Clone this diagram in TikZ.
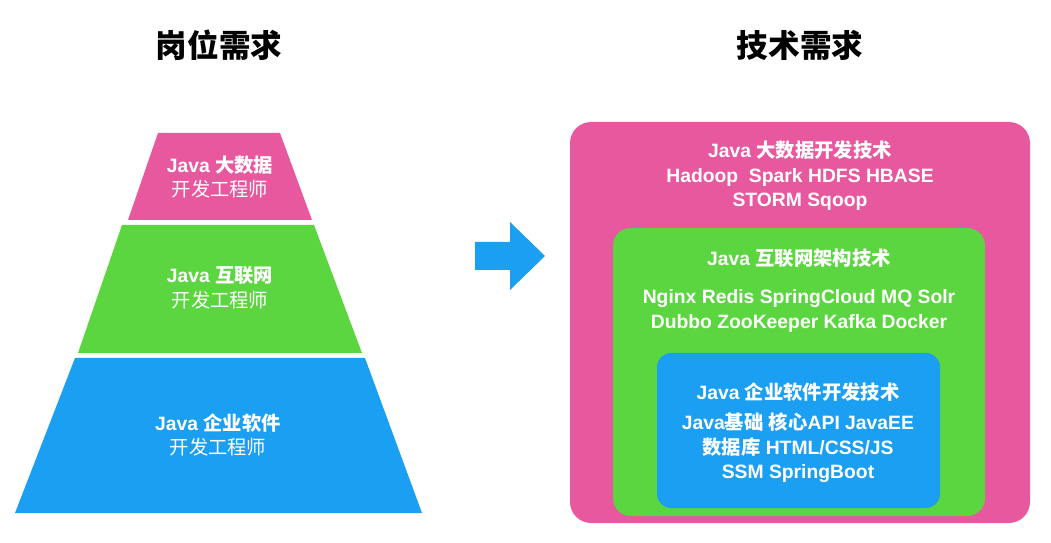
\documentclass[tikz,border=0pt]{standalone}
\usepackage{fontspec}
\setmainfont{Liberation Sans}
\newfontfamily\cjk{Noto Sans CJK SC}
\definecolor{pinkc}{HTML}{E8589E}
\definecolor{greenc}{HTML}{5CD640}
\definecolor{bluec}{HTML}{1A9FF2}
\tikzset{
  layer/.style={draw=none},
  txt/.style={text=white, align=center, font=\bfseries\fontsize{11}{14}\selectfont},
  title/.style={font=\cjk\bfseries\fontsize{18}{20}\selectfont}
}
\begin{document}
\begin{tikzpicture}[x=0.02cm, y=-0.02cm]
	\useasboundingbox (0, 0) rectangle (1051, 543);
	% titles
	\node[title] (t1) at (219, 45) {岗位需求};
	\node[title] (t2) at (800, 45) {技术需求};
	
	% pyramid
	\fill[pinkc] (158, 133) -- (280, 133) -- (312, 220) -- (128, 220) -- cycle;
	\fill[greenc] (122, 225) -- (314, 225) -- (362, 353) -- (78, 353) -- cycle;
	\fill[bluec] (75, 358) -- (365, 358) -- (422, 513) -- (15, 513) -- cycle;
	\node[txt] (p1) at (220, 177) {Java {\cjk 大数据}\\{\cjk\mdseries 开发工程师}};
	\node[txt] (p2) at (220, 288) {Java {\cjk 互联网}\\{\cjk\mdseries 开发工程师}};
	\node[txt] (p3) at (218, 435) {Java {\cjk 企业软件}\\{\cjk\mdseries 开发工程师}};
	
	% arrow
	\fill[bluec] (475, 242) -- (510, 242) -- (510, 222) -- (545, 256) -- (510, 290) -- (510, 270) -- (475, 270) -- cycle;
	
	% nested boxes
	\fill[pinkc, rounded corners=12] (570, 122) rectangle (1030, 523);
	\fill[greenc, rounded corners=10] (613, 228) rectangle (985, 516);
	\fill[bluec, rounded corners=8] (657, 353) rectangle (940, 508);
	\node[txt] (b1) at (800, 176) {Java {\cjk 大数据开发技术}\\Hadoop\ \ Spark HDFS HBASE\\STORM Sqoop};
	\node[txt] (b2) at (799, 258) {Java {\cjk 互联网架构技术}};
	\node[txt] (b3) at (799, 311) {Nginx Redis SpringCloud MQ Solr\\Dubbo ZooKeeper Kafka Docker};
	\node[txt] (b4) at (798, 392) {Java {\cjk 企业软件开发技术}};
	\node[txt] (b5) at (798, 448) {Java{\cjk 基础} {\cjk 核心}API JavaEE\\{\cjk 数据库} HTML/CSS/JS\\SSM SpringBoot};
\end{tikzpicture}
\end{document}
